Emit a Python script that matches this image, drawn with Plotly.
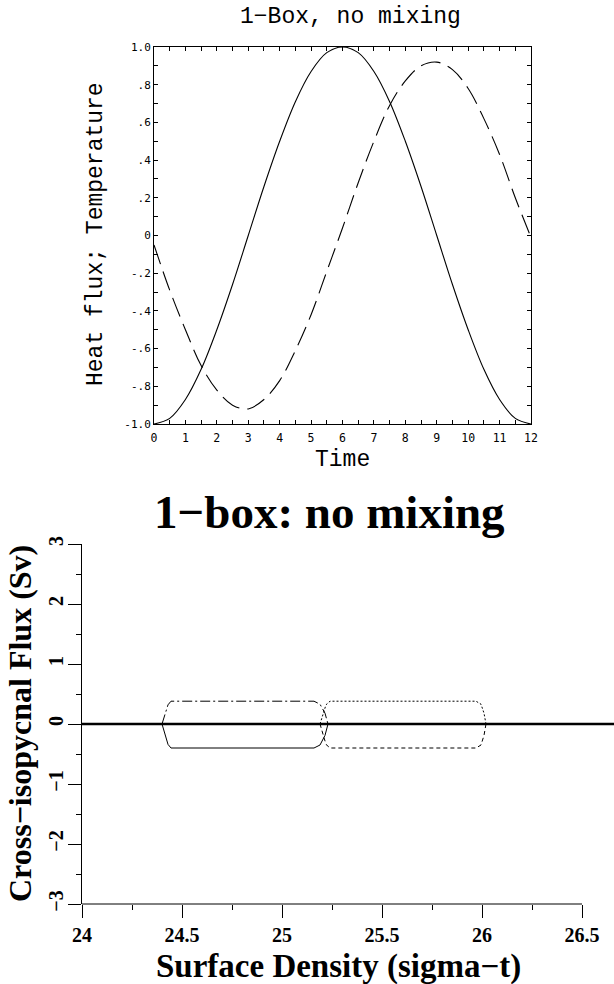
import plotly.graph_objects as go

# ---------------- data: top panel ----------------
time = [0, 0.5, 1, 1.5, 2, 2.5, 3, 3.5, 4, 4.5, 5, 5.5, 6,
        6.5, 7, 7.5, 8, 8.5, 9, 9.5, 10, 10.5, 11, 11.5, 12]
heat_flux = [-1.0, -0.97, -0.87, -0.71, -0.5, -0.26, 0.0, 0.26, 0.5, 0.71, 0.87, 0.97, 1.0,
             0.97, 0.87, 0.71, 0.5, 0.26, 0.0, -0.26, -0.5, -0.71, -0.87, -0.97, -1.0]
temperature = [-0.05, -0.29, -0.5, -0.69, -0.82, -0.9, -0.92, -0.87, -0.77, -0.61, -0.42, -0.19, 0.04,
               0.28, 0.5, 0.69, 0.82, 0.9, 0.92, 0.88, 0.78, 0.62, 0.43, 0.2, -0.01]

top_x_tick_labels = ["0", "1", "2", "3", "4", "5", "6", "7", "8", "9", "10", "11", "12"]
top_y_tick_values = [-1.0, -0.8, -0.6, -0.4, -0.2, 0.0, 0.2, 0.4, 0.6, 0.8, 1.0]
top_y_tick_labels = ["-1.0", "-.8", "-.6", "-.4", "-.2", "0", ".2", ".4", ".6", ".8", "1.0"]

# ---------------- data: bottom panel ----------------
zero_x = [24.0, 26.7]
zero_y = [0.0, 0.0]

box1_x = [24.40, 24.415, 24.43, 24.445, 25.16, 25.19, 25.215, 25.23]
box1_upper = [0.0, 0.18, 0.32, 0.38, 0.38, 0.33, 0.18, 0.0]
box1_lower = [0.0, -0.19, -0.34, -0.40, -0.40, -0.35, -0.19, 0.0]

box2_x = [25.19, 25.205, 25.22, 25.24, 25.97, 25.995, 26.01, 26.02]
box2_upper = [0.0, 0.18, 0.32, 0.38, 0.38, 0.33, 0.18, 0.0]
box2_lower = [0.0, -0.19, -0.34, -0.40, -0.40, -0.35, -0.19, 0.0]

bot_x_tick_values = [24, 24.5, 25, 25.5, 26, 26.5]
bot_x_tick_labels = ["24", "24.5", "25", "25.5", "26", "26.5"]
bot_y_tick_values = [-3, -2, -1, 0, 1, 2, 3]
bot_y_tick_labels = ["\u22123", "\u22122", "\u22121", "0", "1", "2", "3"]

# ---------------- layout parameters ----------------
W, H = 614, 984
TOP_XDOM = [154 / W, 531 / W]
TOP_YDOM = [1 - 424 / H, 1 - 47 / H]
BOT_XDOM = [82 / W, 1.0]
BOT_YDOM = [1 - 904 / H, 1 - 544 / H]
BOT_XMAX = 26.66

MONO = "Liberation Mono"
SMALL = "DejaVu Sans Mono"
SERIF = "Liberation Serif"

fig = go.Figure()

fig.add_trace(go.Scatter(x=time, y=heat_flux, mode="lines", line=dict(color="black", width=1.1, shape="spline"),
                         xaxis="x", yaxis="y", showlegend=False))
fig.add_trace(go.Scatter(x=time, y=temperature, mode="lines",
                         line=dict(color="black", width=1.1, shape="spline", dash="20px,8px"),
                         xaxis="x", yaxis="y", showlegend=False))

fig.add_trace(go.Scatter(x=zero_x, y=zero_y, mode="lines", line=dict(color="black", width=2.6),
                         xaxis="x2", yaxis="y2", showlegend=False))
fig.add_trace(go.Scatter(x=box1_x, y=box1_upper, mode="lines",
                         line=dict(color="black", width=1, dash="10px,3px,2px,3px"),
                         xaxis="x2", yaxis="y2", showlegend=False))
fig.add_trace(go.Scatter(x=box1_x, y=box1_lower, mode="lines", line=dict(color="black", width=1),
                         xaxis="x2", yaxis="y2", showlegend=False))
fig.add_trace(go.Scatter(x=box2_x, y=box2_upper, mode="lines",
                         line=dict(color="black", width=1, dash="2px,2px"),
                         xaxis="x2", yaxis="y2", showlegend=False))
fig.add_trace(go.Scatter(x=box2_x, y=box2_lower, mode="lines",
                         line=dict(color="black", width=1, dash="4px,3px"),
                         xaxis="x2", yaxis="y2", showlegend=False))

# tick arrays for top panel (labels on integers, ticks every 0.5 / 0.1)
top_xt_vals, top_xt_text = [], []
for i, lab in enumerate(top_x_tick_labels):
    top_xt_vals.append(i)
    top_xt_text.append(lab)
    if i < len(top_x_tick_labels) - 1:
        top_xt_vals.append(i + 0.5)
        top_xt_text.append("")
top_yt_vals, top_yt_text = [], []
for i, (v, lab) in enumerate(zip(top_y_tick_values, top_y_tick_labels)):
    top_yt_vals.append(v)
    top_yt_text.append(lab)
    if i < len(top_y_tick_values) - 1:
        top_yt_vals.append(round(v + 0.1, 2))
        top_yt_text.append("")

axis_common = dict(showgrid=False, zeroline=False, linecolor="black", tickcolor="black", automargin=False)

fig.update_layout(
    template="none",
    width=W, height=H, autosize=False,
    margin=dict(l=0, r=0, t=0, b=0, pad=0),
    paper_bgcolor="white", plot_bgcolor="white",
    xaxis=dict(domain=TOP_XDOM, range=[0, 12], anchor="y", showline=True, linewidth=1, mirror="allticks",
               ticks="inside", ticklen=4, tickwidth=1, tickmode="array", tickvals=top_xt_vals,
               ticktext=top_xt_text, ticklabelstandoff=3,
               tickfont=dict(family=SMALL, size=11.5, color="black"), **axis_common),
    yaxis=dict(domain=TOP_YDOM, range=[-1, 1], anchor="x", showline=True, linewidth=1, mirror="allticks",
               ticks="inside", ticklen=4, tickwidth=1, tickmode="array", tickvals=top_yt_vals,
               ticktext=top_yt_text, tickfont=dict(family=SMALL, size=11, color="black"), **axis_common),
    xaxis2=dict(domain=BOT_XDOM, range=[24, BOT_XMAX], anchor="y2", showline=False,
                ticks="outside", ticklen=13, tickwidth=1, tickmode="array", tickvals=bot_x_tick_values,
                ticktext=bot_x_tick_labels,
                minor=dict(ticks="outside", ticklen=5, tickwidth=1, dtick=0.25, tick0=24, tickcolor="black"),
                tickfont=dict(family=SERIF, size=20, color="black", weight="bold"), **axis_common),
    yaxis2=dict(domain=BOT_YDOM, range=[-3, 3], anchor="x2", showline=True, linewidth=1,
                ticks="outside", ticklen=13, tickwidth=1, tickmode="array", tickvals=bot_y_tick_values,
                ticktext=bot_y_tick_labels, tickangle=-90, ticklabelstandoff=-3,
                minor=dict(ticks="outside", ticklen=5, tickwidth=1, dtick=0.5, tick0=0, tickcolor="black"),
                tickfont=dict(family=SERIF, size=20, color="black", weight="bold"), **axis_common),
    shapes=[dict(type="line", xref="x2", yref="paper", x0=24, x1=26.5, y0=BOT_YDOM[0], y1=BOT_YDOM[0],
                 line=dict(color="black", width=1))],
)

annotations = [
    dict(text="1\u2212Box, no mixing", x=350 / W, y=1 - 17 / H, font=dict(family=MONO, size=23, color="black")),
    dict(text="Heat flux; Temperature", x=96 / W, y=1 - 234 / H, textangle=-90,
         font=dict(family=MONO, size=23, color="black")),
    dict(text="Time", x=342 / W, y=1 - 460 / H, font=dict(family=MONO, size=23, color="black")),
    dict(text="<b>1\u2212box: no mixing</b>", x=329 / W, y=1 - 512 / H,
         font=dict(family=SERIF, size=47, color="black")),
    dict(text="<b>Cross\u2212isopycnal Flux (Sv)</b>", x=20 / W, y=1 - 724 / H, textangle=-90,
         font=dict(family=SERIF, size=32, color="black")),
    dict(text="<b>Surface Density (sigma\u2212t)</b>", x=338 / W, y=1 - 966 / H,
         font=dict(family=SERIF, size=33, color="black")),
]
for a in annotations:
    a.update(xref="paper", yref="paper", showarrow=False, xanchor="center", yanchor="middle")
fig.update_layout(annotations=annotations)

fig.write_html("out.html", config={"displayModeBar": False},
               post_script="document.body.style.margin='0px';document.body.style.padding='0px';")
